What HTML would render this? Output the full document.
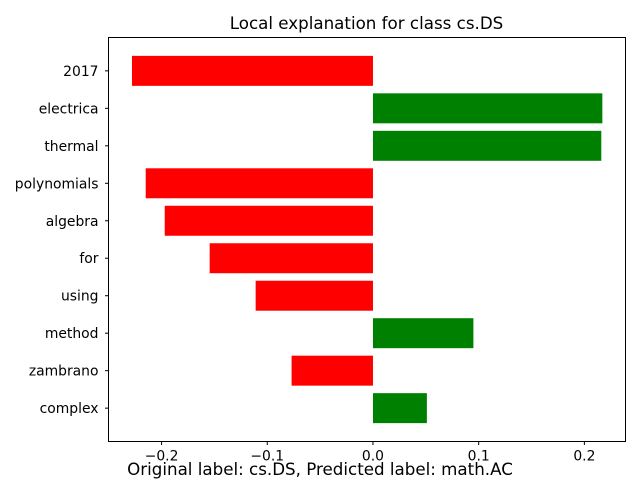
<!DOCTYPE html>
<html><head><meta charset="utf-8">
<style>body{margin:0;background:#fff;font-family:"Liberation Sans","DejaVu Sans",sans-serif;}</style>
</head><body>
<svg id="chart" width="640" height="480" xmlns="http://www.w3.org/2000/svg" font-family="DejaVu Sans, Liberation Sans, sans-serif">
<text x="366.5" y="29" text-anchor="middle" font-size="16.7">Local explanation for class cs.DS</text>
<g id="bars"></g>
<g id="xticks"></g>
<g id="yticks"></g>
<rect x="108.5" y="37.5" width="517" height="404" fill="none" stroke="#000" stroke-width="1"/>
<text x="320" y="475" text-anchor="middle" font-size="16.7">Original label: cs.DS, Predicted label: math.AC</text>
</svg>
<script>
const features = ["2017","electrica","thermal","polynomials","algebra","for","using","method","zambrano","complex"];
const weights = [-0.228,0.217,0.216,-0.215,-0.197,-0.1545,-0.111,0.095,-0.077,0.051];
const xTickValues = [-0.2,-0.1,0.0,0.1,0.2];
const xTickLabels = ["\u22120.2","\u22120.1","0.0","0.1","0.2"];
const NS="http://www.w3.org/2000/svg";
const L=108.5,R=625.5,T=37.5,B=441.5;
const xmin=-0.2502,xmax=0.2389;
const xs=v=>L+(v-xmin)/(xmax-xmin)*(R-L);
const n=features.length;
const ymin=-0.4-0.49,ymax=(n-1)+0.4+0.49;
const ys=i=>T+(i-ymin)/(ymax-ymin)*(B-T);
const bh=0.8*(B-T)/(ymax-ymin);
const bars=document.getElementById('bars'),xt=document.getElementById('xticks'),yt=document.getElementById('yticks');
function mk(t,a){const e=document.createElementNS(NS,t);for(const k in a)e.setAttribute(k,a[k]);return e;}
features.forEach((f,i)=>{
  const w=weights[i],x0=xs(0),x1=xs(w),cy=ys(i);
  const r=mk('rect',{x:Math.min(x0,x1),y:cy-bh/2,width:Math.abs(x1-x0),height:bh,fill:w>0?'green':'red'});
  
  
  bars.appendChild(r);
  const tk=mk('line',{x1:L,x2:L-3.5,y1:cy,y2:cy,stroke:'#000'});
  
  
  yt.appendChild(tk);
  const tx=mk('text',{x:L-10,y:cy+5,'text-anchor':'end','font-size':'13.9'});
  tx.textContent=f;
  
  
  yt.appendChild(tx);
});
xTickValues.forEach((v,i)=>{
  const x=xs(v);
  const tk=mk('line',{x1:x,x2:x,y1:B,y2:B+3.5,stroke:'#000'});
  
  
  xt.appendChild(tk);
  const tx=mk('text',{x:x,y:B+19,'text-anchor':'middle','font-size':'13.9'});
  tx.textContent=xTickLabels[i];
  
  
  xt.appendChild(tx);
});
</script>
</body></html>
